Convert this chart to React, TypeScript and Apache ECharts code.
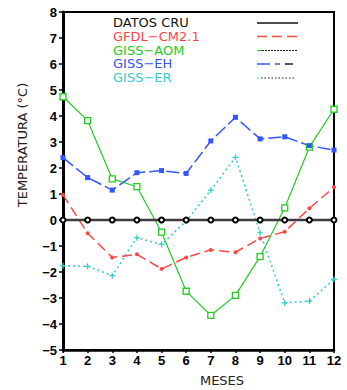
import React, { useEffect, useRef } from "react";
import * as echarts from "echarts";

const months = [1, 2, 3, 4, 5, 6, 7, 8, 9, 10, 11, 12];
const datosCru = [0, 0, 0, 0, 0, 0, 0, 0, 0, 0, 0, 0];
const gfdl = [0.97, -0.51, -1.44, -1.32, -1.88, -1.44, -1.15, -1.24, -0.71, -0.45, 0.45, 1.26];
const gissAom = [4.74, 3.82, 1.58, 1.28, -0.47, -2.74, -3.67, -2.9, -1.41, 0.47, 2.8, 4.26];
const gissEh = [2.4, 1.63, 1.15, 1.82, 1.9, 1.79, 3.04, 3.95, 3.12, 3.2, 2.86, 2.69];
const gissEr = [-1.76, -1.78, -2.14, -0.68, -0.94, -0.04, 1.14, 2.41, -0.49, -3.19, -3.12, -2.28];
const legendNames = ["DATOS CRU", "GFDL\u2212CM2.1", "GISS\u2212AOM", "GISS\u2212EH", "GISS\u2212ER"];

const C_BLACK = "#3c3c3c";
const C_RED = "#ff4444";
const C_GREEN = "#22cc22";
const C_BLUE = "#3355ff";
const C_CYAN = "#33cccc";

const pts = (arr: number[]) => months.map((m, i) => [m, arr[i]]);

export default function App() {
  const ref = useRef<HTMLDivElement>(null);
  useEffect(() => {
    if (!ref.current) return;
    const chart = echarts.init(ref.current, null, { renderer: "svg" });
    const legendY = [23, 36.5, 50.5, 64, 78];
    const legendColors = ["#111", C_RED, C_GREEN, C_BLUE, C_CYAN];
    const lx0 = 257, lx1 = 298;
    const graphics: any[] = [];
    legendNames.forEach((n, i) => {
      graphics.push({
        type: "text",
        left: 113,
        top: legendY[i] - 7,
        style: { text: n, fill: legendColors[i], font: "13px 'DejaVu Sans'" },
      });
    });
    graphics.push({ type: "line", shape: { x1: lx0, y1: legendY[0], x2: lx1, y2: legendY[0] }, style: { stroke: "#111", lineWidth: 1.5 } });
    graphics.push({ type: "line", shape: { x1: lx0, y1: legendY[1], x2: lx1, y2: legendY[1] }, style: { stroke: C_RED, lineWidth: 1.5, lineDash: [10, 5] } });
    graphics.push({ type: "line", shape: { x1: lx0, y1: legendY[2], x2: lx0 + 5, y2: legendY[2] }, style: { stroke: C_GREEN, lineWidth: 1.2 } });
    graphics.push({ type: "line", shape: { x1: lx0 + 5, y1: legendY[2], x2: lx1, y2: legendY[2] }, style: { stroke: "#222", lineWidth: 1.2, lineDash: [2, 1] } });
    graphics.push({ type: "line", shape: { x1: lx0, y1: legendY[3], x2: lx0 + 13, y2: legendY[3] }, style: { stroke: C_BLUE, lineWidth: 1.5 } });
    graphics.push({ type: "line", shape: { x1: lx0 + 18, y1: legendY[3], x2: lx0 + 23, y2: legendY[3] }, style: { stroke: C_BLUE, lineWidth: 1.5 } });
    graphics.push({ type: "line", shape: { x1: lx0 + 28, y1: legendY[3], x2: lx0 + 36, y2: legendY[3] }, style: { stroke: "#222", lineWidth: 1.5 } });
    graphics.push({ type: "line", shape: { x1: lx0, y1: legendY[4], x2: lx0 + 2, y2: legendY[4] }, style: { stroke: C_CYAN, lineWidth: 1.2 } });
    graphics.push({ type: "line", shape: { x1: lx0 + 4, y1: legendY[4], x2: lx1 - 2, y2: legendY[4] }, style: { stroke: "#222", lineWidth: 1.2, lineDash: [1.5, 2] } });
    graphics.push({
      type: "text",
      x: 22,
      y: 145,
      rotation: Math.PI / 2,
      style: { text: "TEMPERATURA (\u00b0C)", fill: "#222", font: "13px 'DejaVu Sans'", align: "center", verticalAlign: "middle" },
    });
    graphics.push({
      type: "text",
      x: 222,
      y: 380,
      style: { text: "MESES", fill: "#222", font: "13px 'DejaVu Sans'", align: "center", verticalAlign: "middle" },
    });

    const plus = "path://M4,0H6V4H10V6H6V10H4V6H0V4H4Z";
    chart.setOption({
      animation: false,
      backgroundColor: "#fff",
      grid: { left: 63, right: 13, top: 12, bottom: 40, show: true, borderColor: "#000", borderWidth: 2 },
      xAxis: {
        type: "value",
        min: 1,
        max: 12,
        interval: 1,
        axisLine: { show: true, onZero: false, lineStyle: { color: "#000", width: 2.5 } },
        axisTick: { show: true, inside: false, length: 3, lineStyle: { color: "#000", width: 1.5 } },
        axisLabel: { color: "#000", fontWeight: "bold", fontSize: 13, fontFamily: "'Liberation Sans', Arial", margin: 4 },
        splitLine: { show: false },
      },
      yAxis: {
        type: "value",
        min: -5,
        max: 8,
        interval: 1,
        axisLine: { show: true, onZero: false, lineStyle: { color: "#000", width: 3 } },
        axisTick: { show: true, inside: false, length: 4, lineStyle: { color: "#000", width: 1.5 } },
        axisLabel: {
          color: "#000",
          fontWeight: "bold",
          fontSize: 13,
          fontFamily: "'Liberation Sans', Arial",
          margin: 6,
          formatter: (v: number) => (v < 0 ? "\u2212" + Math.abs(v) : String(v)),
        },
        splitLine: { show: false },
      },
      graphic: graphics,
      series: [
        {
          name: "DATOS CRU",
          type: "line",
          data: pts(datosCru),
          symbol: "emptyCircle",
          symbolSize: 5,
          lineStyle: { color: C_BLACK, width: 2.5 },
          itemStyle: { color: "#000", borderColor: "#000", borderWidth: 1.2 },
          z: 5,
        },
        {
          name: "GFDL-CM2.1",
          type: "line",
          data: pts(gfdl),
          symbol: "circle",
          symbolSize: 4,
          lineStyle: { color: C_RED, width: 1.5, type: [10, 5] },
          itemStyle: { color: C_RED },
        },
        {
          name: "GISS-AOM",
          type: "line",
          data: pts(gissAom),
          symbol: "rect",
          symbolSize: 6,
          lineStyle: { color: C_GREEN, width: 1.2 },
          itemStyle: { color: "#fff", borderColor: C_GREEN, borderWidth: 1.3 },
        },
        {
          name: "GISS-EH",
          type: "line",
          data: pts(gissEh),
          symbol: "rect",
          symbolSize: 5,
          lineStyle: { color: C_BLUE, width: 1.5, type: [13, 4] },
          itemStyle: { color: C_BLUE },
        },
        {
          name: "GISS-ER",
          type: "line",
          data: pts(gissEr),
          symbol: plus,
          symbolSize: 6,
          lineStyle: { color: C_CYAN, width: 1.5, type: [2, 3] },
          itemStyle: { color: C_CYAN },
        },
      ],
    });
    return () => chart.dispose();
  }, []);
  return <div ref={ref} style={{ width: 347, height: 390, position: "absolute", left: 0, top: 0 }} />;
}
